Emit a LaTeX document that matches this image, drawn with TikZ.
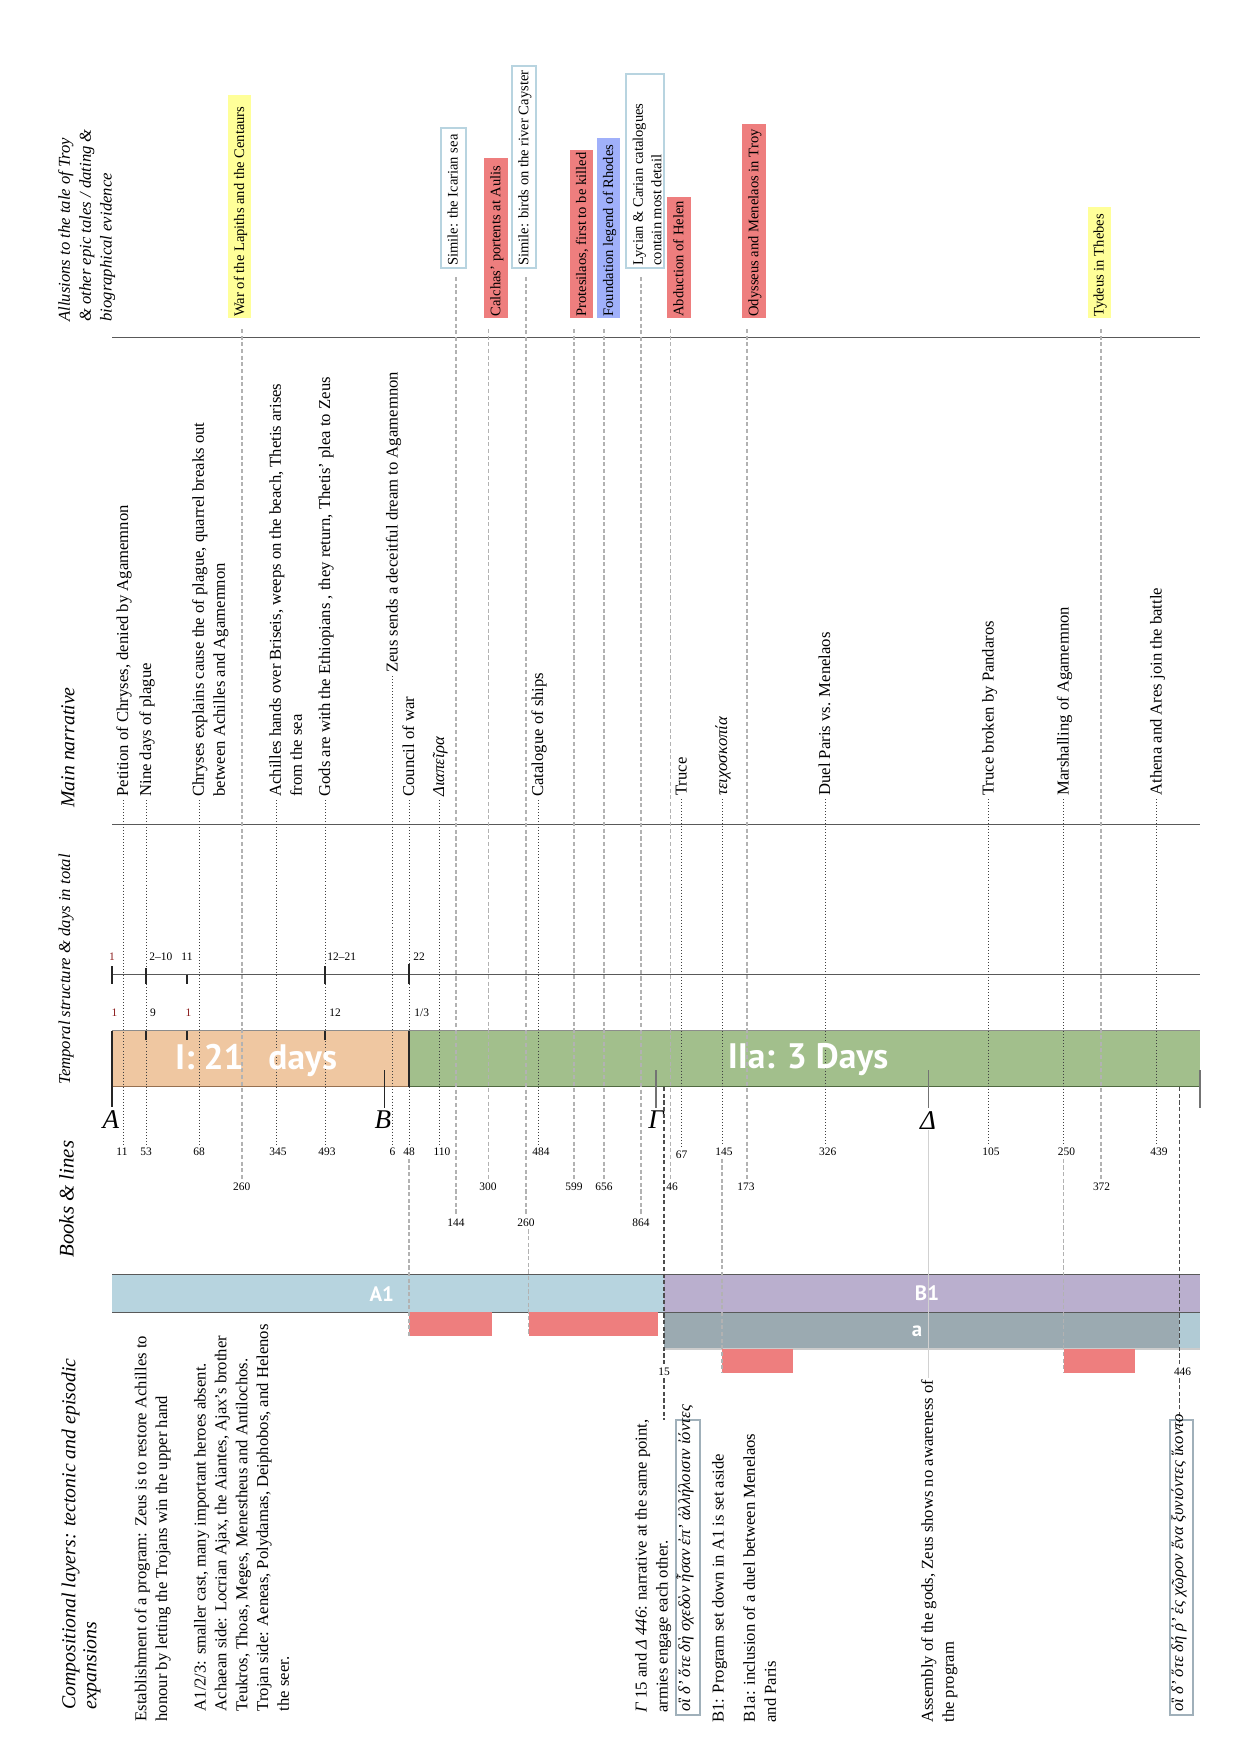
\documentclass[tikz,border=0pt]{standalone}
\usepackage{fontspec}
\setmainfont{Liberation Serif}
\newfontfamily\barfont{PT Sans}
\usetikzlibrary{calc}
\definecolor{peach}{RGB}{239,199,161}
\definecolor{sage}{RGB}{162,191,140}
\definecolor{peachline}{RGB}{150,112,80}
\definecolor{sageline}{RGB}{80,105,65}
\definecolor{layerA}{RGB}{183,212,223}
\definecolor{layerB}{RGB}{186,175,206}
\definecolor{layera}{RGB}{155,170,177}
\definecolor{epired}{RGB}{238,126,126}
\definecolor{allyel}{RGB}{255,255,153}
\definecolor{allblue}{RGB}{160,176,250}
\definecolor{simblue}{RGB}{184,212,224}
\definecolor{greekbox}{RGB}{160,176,186}
\definecolor{dayred}{RGB}{140,30,30}
\begin{document}
\begin{tikzpicture}[x=0.48045pt,y=-0.48045pt,
  narr/.style={rotate=90,anchor=base west,inner sep=0pt,align=left,font=\fontsize{8}{10}\selectfont},
  allu/.style={rotate=90,anchor=base west,inner sep=0pt,align=left,font=\fontsize{7}{8.8}\selectfont},
  sect/.style={rotate=90,anchor=base west,inner sep=0pt,align=left,font=\fontsize{9.5}{10}\selectfont\itshape},
  num/.style={inner sep=1.2pt,font=\fontsize{5.5}{6}\selectfont},
  greekcap/.style={inner sep=0pt,font=\fontsize{13}{13}\selectfont\itshape},
  barlabel/.style={text=white,inner sep=0pt,font=\barfont\bfseries\fontsize{17}{17}\selectfont},
  laylabel/.style={text=white,inner sep=0pt,font=\barfont\bfseries\fontsize{10}{10}\selectfont},
  darkdot/.style={densely dotted,line width=0.45pt,black!75},
  lightdash/.style={dash pattern=on 2pt off 1.2pt,line width=0.55pt,black!30},
  darkdash/.style={dash pattern=on 2pt off 1.2pt,line width=0.5pt,black!70},
  sepline/.style={line width=0.6pt,black!65},
  tickline/.style={line width=0.5pt,black!85},
  graytick/.style={line width=0.5pt,black!55},
]
\useasboundingbox (0,0) rectangle (1239,1754);

% ---------------- section titles
\node[sect,font=\fontsize{8}{10}\selectfont\itshape] (tAll) at (111.6,322) {Allusions to the tale of Troy\\\& other epic tales / dating \&\\biographical evidence};
\node[sect] (tMain) at (74.4,808) {Main narrative};
\node[sect,font=\fontsize{8}{10}\selectfont\itshape] (tTemp) at (70,1085) {Temporal structure \& days in total};
\node[sect,font=\fontsize{10}{10}\selectfont\itshape] (tBooks) at (73.7,1258) {Books \& lines};
\node[sect] (tComp) at (96.3,1710) {Compositional layers: tectonic and episodic\\expansions};

% ---------------- separators
\draw[sepline] (112,337.3) -- (1200,337.3);
\draw[sepline] (112,824.7) -- (1200,824.7);
\draw[sepline] (112,974.7) -- (1200,974.7);

% ---------------- temporal bar
\fill[peach] (112,1030.7) rectangle (409,1086.7);
\fill[sage] (409,1030.7) rectangle (1200,1086.7);
\draw[black!45,line width=0.6pt] (112,1030.7) -- (1200,1030.7);
\draw[peachline,line width=0.7pt] (112,1086.7) -- (409,1086.7);
\draw[sageline,line width=0.7pt] (409,1086.7) -- (1200,1086.7);

% ---------------- layer bars
\fill[layerA] (112,1274.3) rectangle (664,1312.3);
\fill[layerB] (664,1274.3) rectangle (1200,1312.3);
\fill[layera] (664,1312.3) rectangle (1179.4,1349);
\fill[layerA!90!gray] (1179.4,1312.3) rectangle (1200,1349);
\draw[sepline] (112,1274.3) -- (1200,1274.3);
\draw[sepline] (112,1312.3) -- (1200,1312.3);
\draw[black!20,line width=0.5pt] (664,1349) -- (1200,1349);

% red episodic expansions
\coordinate (r1a) at (409,1312.3);   \coordinate (r1b) at (492,1335.7);
\coordinate (r2a) at (528.7,1312.3); \coordinate (r2b) at (658.3,1335.7);
\coordinate (r3a) at (722,1349);     \coordinate (r3b) at (793,1373);
\coordinate (r4a) at (1063.7,1349);  \coordinate (r4b) at (1135,1373);
\fill[epired] (r1a) rectangle (r1b);
\fill[epired] (r2a) rectangle (r2b);
\fill[epired] (r3a) rectangle (r3b);
\fill[epired] (r4a) rectangle (r4b);

% ---------------- allusion boxes
\fill[allyel] (228,95) rectangle (251,318);
\node[allu] (al1) at (244,317) {War of the Lapiths and the Centaurs};
\draw[simblue,line width=0.9pt,fill=white] (441,128) rectangle (465.6,268);
\node[allu] (al2) at (457.7,266) {Simile: the Icarian sea};
\fill[epired] (484,157.7) rectangle (507.7,318);
\node[allu] (al3) at (500.3,317) {Calchas’ portents at Aulis};
\draw[simblue,line width=0.9pt,fill=white] (512,65.7) rectangle (536,268);
\node[allu] (al4) at (528.4,266) {Simile: birds on the river Cayster};
\fill[epired] (570,150) rectangle (593,318);
\node[allu] (al5) at (586,317) {Protesilaos, first to be killed};
\fill[allblue] (597,138) rectangle (620,318);
\node[allu] (al6) at (613,317) {Foundation legend of Rhodes};
\draw[simblue,line width=0.9pt,fill=white] (625.7,74) rectangle (664,268);
\node[allu] (al7) at (661.3,266) {Lycian \& Carian catalogues\\contain most detail};
\fill[epired] (667,196.7) rectangle (691,318);
\node[allu] (al8) at (683.4,317) {Abduction of Helen};
\fill[epired] (742,124) rectangle (766,318);
\node[allu] (al9) at (758.4,317) {Odysseus and Menelaos in Troy};
\fill[allyel] (1088,207) rectangle (1110.6,318);
\node[allu] (al10) at (1103.7,317) {Tydeus in Thebes};

% allusion line tops
\coordinate (at1) at (242,329);
\coordinate (at2) at (456,277);
\coordinate (at3) at (488.5,329);
\coordinate (at4) at (526,277);
\coordinate (at5) at (574,329);
\coordinate (at6) at (604,329);
\coordinate (at7) at (641,277);
\coordinate (at8) at (670.5,329);
\coordinate (at9) at (747,329);
\coordinate (at10) at (1101,329);

% allusion line labels (books & lines)
\node[num] (bl1) at (241.7,1187) {260};
\node[num] (bl2) at (456,1222.7) {144};
\node[num] (bl3) at (488,1187) {300};
\node[num] (bl4) at (526,1222.7) {260};
\node[num] (bl5) at (574,1187) {599};
\node[num] (bl6) at (604,1187) {656};
\node[num] (bl7) at (641,1222.7) {864};
\node[num] (bl8) at (672,1187) {46};
\node[num] (bl9) at (746,1187) {173};
\node[num] (bl10) at (1101.6,1187) {372};

\foreach \i in {1,...,10} {
  \draw[lightdash] (at\i) -- (at\i |- bl\i.north);
}

% ---------------- main narrative
\node[narr] (n1) at (128,797) {Petition of Chryses, denied by Agamemnon};
\node[narr] (n2) at (151,797) {Nine days of plague};
\node[narr] (n3) at (224.8,797) {Chryses explains cause the of plague, quarrel breaks out\\between Achilles and Agamemnon};
\node[narr] (n4) at (301.8,797) {Achilles hands over Briseis, weeps on the beach, Thetis arises\\from the sea};
\node[narr] (n5) at (330,797) {Gods are with the Ethiopians , they return, Thetis’ plea to Zeus};
\node[narr] (n6) at (397.5,673) {Zeus sends a deceitful dream to Agamemnon};
\node[narr] (n7) at (414,797) {Council of war};
\node[narr] (n8) at (444,797) {\textit{Διαπεῖρα}};
\node[narr] (n9) at (543,797) {Catalogue of ships};
\node[narr] (n10) at (686.6,796) {Truce};
\node[narr] (n11) at (727,796) {\textit{τειχοσκοπία}};
\node[narr] (n12) at (830,796) {Duel Paris vs. Menelaos};
\node[narr] (n13) at (993.7,796) {Truce broken by Pandaros};
\node[narr] (n14) at (1068.7,796) {Marshalling of Agamemnon};
\node[narr] (n15) at (1161.5,796) {Athena and Ares join the battle};

\coordinate (nt1) at (123,800);
\coordinate (nt2) at (146,800);
\coordinate (nt3) at (199,800);
\coordinate (nt4) at (276,800);
\coordinate (nt5) at (325,800);
\coordinate (nt6) at (392.5,676);
\coordinate (nt7) at (409,800);
\coordinate (nt8) at (439,800);
\coordinate (nt9) at (538,800);
\coordinate (nt10) at (681.6,799);
\coordinate (nt11) at (722,799);
\coordinate (nt12) at (825,799);
\coordinate (nt13) at (988.7,799);
\coordinate (nt14) at (1063.7,799);
\coordinate (nt15) at (1156.5,799);

\node[num] (b1) at (122,1152) {11};
\node[num] (b2) at (146,1152) {53};
\node[num] (b3) at (199,1152) {68};
\node[num] (b4) at (278,1152) {345};
\node[num] (b5) at (327,1152) {493};
\node[num] (b6) at (392.5,1152) {6};
\node[num] (b7) at (409,1152) {48};
\node[num] (b8) at (442,1152) {110};
\node[num] (b9) at (541,1152) {484};
\node[num] (b10) at (681.6,1155) {67};
\node[num] (b11) at (724,1152) {145};
\node[num] (b12) at (827.7,1152) {326};
\node[num] (b13) at (991,1152) {105};
\node[num] (b14) at (1066.5,1152) {250};
\node[num] (b15) at (1159,1152) {439};

\foreach \i in {1,...,15} {
  \draw[darkdot] (nt\i) -- (nt\i |- b\i.north);
}

% continuation of line markers down to the expansions
\draw[lightdash] (b7.south) -- (b7.south |- r1b);
\draw[lightdash] (r2a |- bl4.south) -- (r2a |- r2b);
\draw[lightdash] (r3a |- b11.south) -- (r3a |- r3b);
\draw[lightdash] (r4a |- b14.south) -- (r4a |- r4b);

% ---------------- temporal ticks and day labels
\draw[tickline] (112,966) -- (112,984);
\draw[tickline] (146,968) -- (146,984);
\draw[tickline] (187,974.7) -- (187,984);
\draw[tickline] (325,966) -- (325,984);
\draw[tickline] (409,964) -- (409,984);
\draw[tickline] (146,1030.7) -- (146,1040);
\draw[tickline] (187,1030.7) -- (187,1040);
\draw[tickline] (325,1030.7) -- (325,1040);
\draw[tickline] (409,1030.7) -- (409,1086.7);

\node[num,text=dayred] (d1) at (112,957) {1};
\node[num,anchor=west] (d2) at (146.5,957) {2–10};
\node[num] (d3) at (187,957) {11};
\node[num,anchor=west] (d4) at (324.5,957) {12–21};
\node[num,anchor=west] (d5) at (410.5,957) {22};
\node[num,text=dayred] (e1) at (114.6,1013) {1};
\node[num] (e2) at (153,1013) {9};
\node[num,text=dayred] (e3) at (188.5,1013) {1};
\node[num,anchor=west] (e4) at (326.5,1013) {12};
\node[num,anchor=west] (e5) at (411.5,1013) {1/3};

% book markers
\node[greekcap] (bkA) at (111,1120) {A};
\node[greekcap] (bkB) at (383,1120) {B};
\node[greekcap] (bkG) at (656,1120) {Γ};
\node[greekcap] (bkD) at (928,1121) {Δ};
\draw[tickline] (112,1030.7) -- (112,1107);
\draw[tickline] (384.5,1070) -- (384.5,1108);
\draw[graytick] (656,1070) -- (656,1108);
\draw[graytick] (928.7,1070) -- (928.7,1108);
\draw[graytick] (1200,1070) -- (1200,1108);
\coordinate (dEnd) at (928.7,1378);
\draw[black!18,line width=0.6pt] (bkD.south -| dEnd) -- (dEnd);

% bar labels
\node[barlabel] (I21) at (256,1060) {I: 21\hspace{0.7em}days};
\node[barlabel] (IIa) at (808,1060) {IIa: 3 Days};
\node[laylabel] (LA1) at (381.7,1294) {A1};
\node[laylabel] (LB1) at (927,1293.5) {B1};
\node[laylabel] (La) at (917,1331) {a};

% Gamma 15 and Delta 446 lines
\coordinate (g15top) at (664,1087);
\node[num] (g15) at (664,1371.7) {15};
\coordinate (g15end) at (664,1420);
\draw[darkdash] (g15top) -- (g15.north);
\draw[darkdash] (g15.south) -- (g15end);
\coordinate (d446top) at (1179.4,1087);
\node[num] (d446) at (1182.6,1371.7) {446};
\coordinate (d446end) at (1179.4,1428);
\draw[darkdash] (d446top) -- (d446top |- d446.north);
\draw[darkdash] (d446top |- d446.south) -- (d446end);

% ---------------- bottom texts
\node[narr] (c1) at (167.2,1722) {Establishment of a program: Zeus is to restore Achilles to\\honour by letting the Trojans win the upper hand};
\node[narr] (c2) at (288.9,1711.7) {A1/2/3: smaller cast, many important heroes absent.\\Achaean side: Locrian Ajax, the Aiantes, Ajax’s brother\\Teukros, Thoas, Meges, Menestheus and Antilochos.\\Trojan side: Aeneas, Polydamas, Deiphobos, and Helenos\\the seer.};
\node[narr] (c3) at (667.5,1713) {\textit{Γ} 15 and \textit{Δ 446}: narrative at the same point,\\armies engage each other.};
\draw[greekbox,line width=0.8pt] (676,1420) rectangle (699.7,1715);
\node[narr,font=\fontsize{8}{10}\selectfont\itshape] (gk1) at (690,1712) {οἳ δ’ ὅτε δὴ σχεδὸν ἦσαν ἐπ’ ἀλλήλοισιν ἰόντες};
\node[narr] (c4) at (723.7,1723) {B1: Program set down in A1 is set aside};
\node[narr] (c5) at (775.8,1723) {B1a: inclusion of a duel between Menelaos\\and Paris};
\node[narr] (c6) at (953.8,1723) {Assembly of the gods, Zeus shows no awareness of\\the program};
\draw[greekbox,line width=0.8pt] (1170,1420) rectangle (1193,1715);
\node[narr,font=\fontsize{8}{10}\selectfont\itshape] (gk2) at (1183,1712) {οἳ δ’ ὅτε δή ῥ’ ἐς χῶρον ἕνα ξυνιόντες ἵκοντο};
\end{tikzpicture}
\end{document}
